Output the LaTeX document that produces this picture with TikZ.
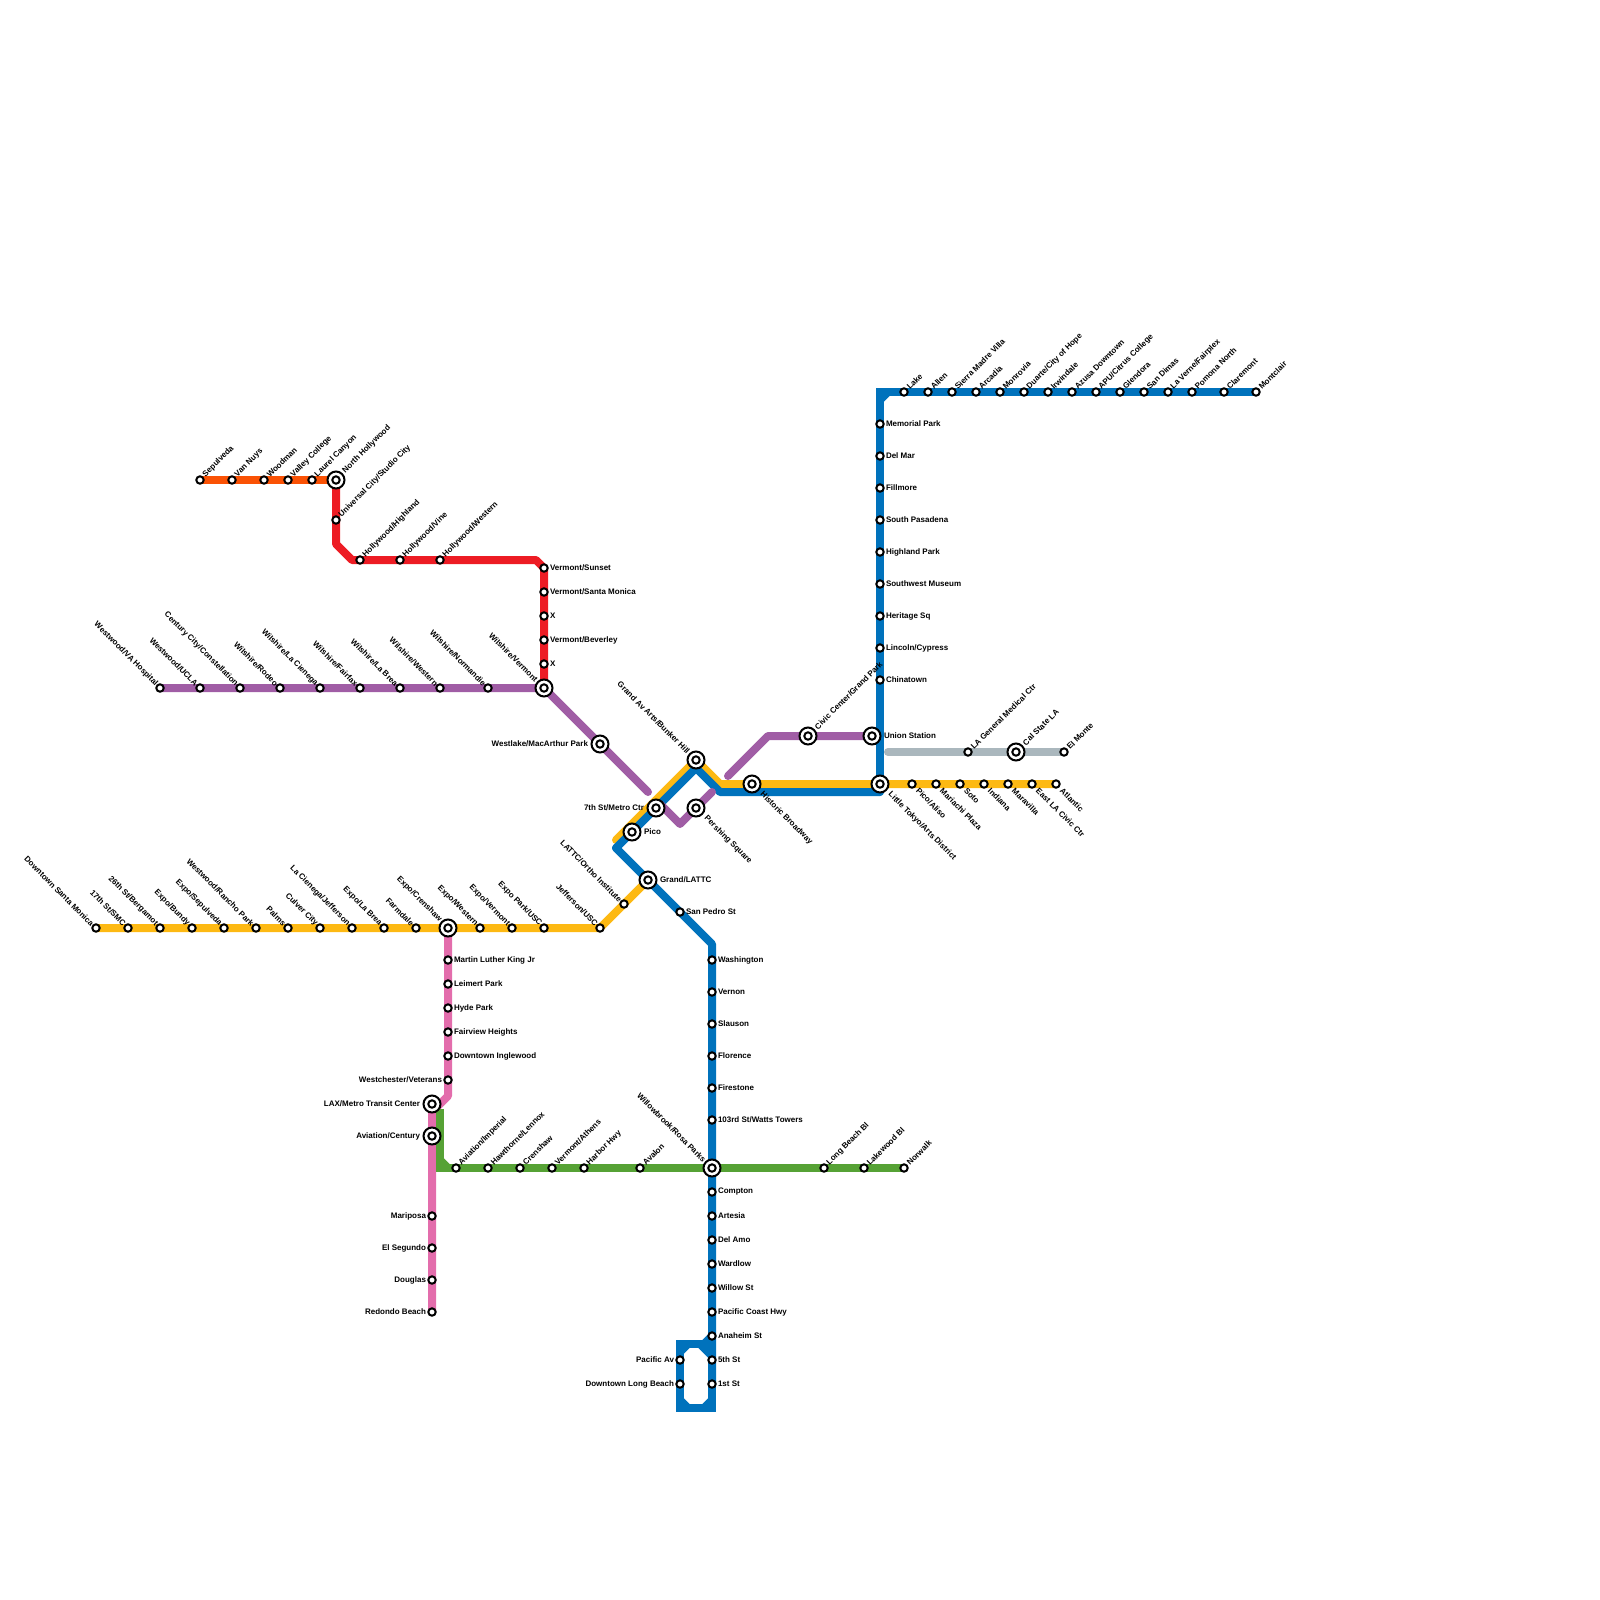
\documentclass[tikz,border=0pt]{standalone}
\usepackage{fontspec}
\setmainfont{Liberation Sans}
\usetikzlibrary{backgrounds}

\definecolor{lineorange}{HTML}{FA5205}
\definecolor{linered}{HTML}{ED1C24}
\definecolor{linepurple}{HTML}{A05DA5}
\definecolor{lineyellow}{HTML}{FDB913}
\definecolor{lineblue}{HTML}{0072BC}
\definecolor{linepink}{HTML}{E36DAC}
\definecolor{linegreen}{HTML}{56A235}
\definecolor{linegray}{HTML}{AAB7BD}

\tikzset{
  rail/.style={line width=8pt, line cap=round, line join=round},
  stn/.style={circle, draw=black, fill=white, line width=2pt, inner sep=0pt, outer sep=0pt, minimum size=7.4pt},
  hub/.style={stn, minimum size=17pt, path picture={\draw[line width=2pt, fill=white] (path picture bounding box.center) circle (3.7pt);}},
  lbl/.style={font=\bfseries\fontsize{8}{8}\selectfont, inner sep=0pt, outer sep=0pt, text=black},
  lblur/.style={lbl, anchor=west, xshift=#1, yshift=#1, rotate=45},
  lblur/.default=4.2pt,
  lblul/.style={lbl, anchor=east, xshift=-#1, yshift=#1, rotate=-45},
  lblul/.default=3.5pt,
  lbldr/.style={lbl, anchor=west, xshift=#1, yshift=-#1, rotate=-45},
  lbldr/.default=5.5pt,
  lblr/.style={lbl, anchor=west, xshift=#1},
  lblr/.default=6pt,
  lbll/.style={lbl, anchor=east, xshift=-#1},
  lbll/.default=6pt,
}

\begin{document}
\begin{tikzpicture}[x=1pt, y=-1pt]
  \useasboundingbox (0,0) rectangle (1600,1600);

  % Orange line
  \foreach \nm/\x/\txt in {sepulveda/200/Sepulveda, vannuys/232/Van Nuys, woodman/264/Woodman, valleycol/288/Valley College, laurel/312/Laurel Canyon}
  {
    \node[stn] (\nm) at (\x,480) {};
    \node[lblur] (\nm t) at (\nm) {\txt};
  }
  \node[hub] (nohollywood) at (336,480) {};
  \node[lblur=8pt] (nohollywood t) at (nohollywood) {North Hollywood};

  % Red line
  \foreach \nm/\x/\y/\txt in {univcity/336/520/{Universal City/Studio City}, hwhighland/360/560/{Hollywood/Highland}, hwvine/400/560/{Hollywood/Vine}, hwwestern/440/560/{Hollywood/Western}}
  {
    \node[stn] (\nm) at (\x,\y) {};
    \node[lblur] (\nm t) at (\nm) {\txt};
  }
  \foreach \nm/\y/\txt in {vsunset/568/{Vermont/Sunset}, vsantamonica/592/{Vermont/Santa Monica}, vxone/616/X, vbeverley/640/{Vermont/Beverley}, vxtwo/664/X}
  {
    \node[stn] (\nm) at (544,\y) {};
    \node[lblr] (\nm t) at (\nm) {\txt};
  }

  % Purple line
  \foreach \nm/\x/\txt in {wwva/160/{Westwood/VA Hospital}, wwucla/200/{Westwood/UCLA}, century/240/{Century City/Constellation}, rodeo/280/{Wilshire/Rodeo}, wcienega/320/{Wilshire/La Cienega}, wfairfax/360/{Wilshire/Fairfax}, wlabrea/400/{Wilshire/La Brea}, wwestern/440/{Wilshire/Western}, wnormandie/488/{Wilshire/Normandie}}
  {
    \node[stn] (\nm) at (\x,688) {};
    \node[lblul] (\nm t) at (\nm) {\txt};
  }
  \node[hub] (wvermont) at (544,688) {};
  \node[lblul=7.5pt] (wvermont t) at (wvermont) {Wilshire/Vermont};
  \node[hub] (westlake) at (600,744) {};
  \node[lbll=12pt] (westlake t) at (westlake) {Westlake/MacArthur Park};
  \node[hub] (pershing) at (696,808) {};
  \node[lbldr=9.5pt] (pershing t) at (pershing) {Pershing Square};
  \node[hub] (civic) at (808,736) {};
  \node[lblur=8pt] (civic t) at (civic) {Civic Center/Grand Park};
  \node[hub] (union) at (872,736) {};
  \node[lblr=12pt] (union t) at (union) {Union Station};

  % Yellow line
  \foreach \nm/\x/\txt in {dtsm/96/Downtown Santa Monica, smc/128/{17th St/SMC}, bergamot/160/{26th St/Bergamot}, bundy/192/{Expo/Bundy}, esepulveda/224/{Expo/Sepulveda}, rancho/256/{Westwood/Rancho Park}, palms/288/Palms, culver/320/Culver City, lcjefferson/352/{La Cienega/Jefferson}, elabrea/384/{Expo/La Brea}, farmdale/416/Farmdale, ewestern/480/{Expo/Western}, evermont/512/{Expo/Vermont}, expopark/544/{Expo Park/USC}, jefferson/600/{Jefferson/USC}}
  {
    \node[stn] (\nm) at (\x,928) {};
    \node[lblul] (\nm t) at (\nm) {\txt};
  }
  \node[hub] (ecrenshaw) at (448,928) {};
  \node[lblul=7.5pt] (ecrenshaw t) at (ecrenshaw) {Expo/Crenshaw};
  \node[stn] (lattc) at (624,904) {};
  \node[lblul] (lattc t) at (lattc) {LATTC/Ortho Institute};
  \node[hub] (grandlattc) at (648,880) {};
  \node[lblr=12pt] (grandlattc t) at (grandlattc) {Grand/LATTC};
  \node[hub] (pico) at (632,832) {};
  \node[lblr=12pt] (pico t) at (pico) {Pico};
  \node[hub] (metroctr) at (656,808) {};
  \node[lbll=12pt] (metroctr t) at (metroctr) {7th St/Metro Ctr};
  \node[hub] (bunkerhill) at (696,760) {};
  \node[lblul=7.5pt] (bunkerhill t) at (bunkerhill) {Grand Av Arts/Bunker Hill};
  \node[hub] (broadway) at (752,784) {};
  \node[lbldr=9.5pt] (broadway t) at (broadway) {Historic Broadway};
  \node[hub] (littletokyo) at (880,784) {};
  \node[lbldr=9.5pt] (littletokyo t) at (littletokyo) {Little Tokyo/Arts District};
  \foreach \nm/\x/\txt in {picoaliso/912/{Pico/Aliso}, mariachi/936/Mariachi Plaza, soto/960/Soto, indiana/984/Indiana, maravilla/1008/Maravilla, eastla/1032/East LA Civic Ctr, atlantic/1056/Atlantic}
  {
    \node[stn] (\nm) at (\x,784) {};
    \node[lbldr] (\nm t) at (\nm) {\txt};
  }

  % Gray line
  \node[stn] (lageneral) at (968,752) {};
  \node[lblur] (lageneral t) at (lageneral) {LA General Medical Ctr};
  \node[hub] (calstate) at (1016,752) {};
  \node[lblur=8pt] (calstate t) at (calstate) {Cal State LA};
  \node[stn] (elmonte) at (1064,752) {};
  \node[lblur] (elmonte t) at (elmonte) {El Monte};

  % Blue line, east branch
  \foreach \nm/\x/\txt in {lake/904/Lake, allen/928/Allen, sierra/952/Sierra Madre Villa, arcadia/976/Arcadia, monrovia/1000/Monrovia, duarte/1024/{Duarte/City of Hope}, irwindale/1048/Irwindale, azusa/1072/Azusa Downtown, apu/1096/{APU/Citrus College}, glendora/1120/Glendora, sandimas/1144/San Dimas, laverne/1168/{La Verne/Fairplex}, pomona/1192/Pomona North, claremont/1224/Claremont, montclair/1256/Montclair}
  {
    \node[stn] (\nm) at (\x,392) {};
    \node[lblur] (\nm t) at (\nm) {\txt};
  }
  \foreach \nm/\y/\txt in {memorial/424/Memorial Park, delmar/456/Del Mar, fillmore/488/Fillmore, southpas/520/South Pasadena, highland/552/Highland Park, swmuseum/584/Southwest Museum, heritage/616/Heritage Sq, lincoln/648/{Lincoln/Cypress}, chinatown/680/Chinatown}
  {
    \node[stn] (\nm) at (880,\y) {};
    \node[lblr] (\nm t) at (\nm) {\txt};
  }

  % Blue line, south branch
  \node[stn] (sanpedro) at (680,912) {};
  \node[lblr] (sanpedro t) at (sanpedro) {San Pedro St};
  \foreach \nm/\y/\txt in {washington/960/Washington, vernon/992/Vernon, slauson/1024/Slauson, florence/1056/Florence, firestone/1088/Firestone, wattstowers/1120/{103rd St/Watts Towers}, compton/1192/Compton, artesia/1216/Artesia, delamo/1240/Del Amo, wardlow/1264/Wardlow, willowst/1288/Willow St, pch/1312/Pacific Coast Hwy, anaheim/1336/Anaheim St, fifthst/1360/5th St, firstst/1384/1st St}
  {
    \node[stn] (\nm) at (712,\y) {};
    \node[lblr] (\nm t) at (\nm) {\txt};
  }
  \foreach \nm/\y/\txt in {pacificav/1360/Pacific Av, dtlb/1384/Downtown Long Beach}
  {
    \node[stn] (\nm) at (680,\y) {};
    \node[lbll] (\nm t) at (\nm) {\txt};
  }

  % Green line
  \foreach \nm/\x/\txt in {avimperial/456/{Aviation/Imperial}, hawthorne/488/{Hawthorne/Lennox}, gcrenshaw/520/Crenshaw, vathens/552/{Vermont/Athens}, harbor/584/Harbor Hwy, avalon/640/Avalon, longbeachbl/824/Long Beach Bl, lakewood/864/Lakewood Bl, norwalk/904/Norwalk}
  {
    \node[stn] (\nm) at (\x,1168) {};
    \node[lblur] (\nm t) at (\nm) {\txt};
  }
  \node[hub] (rosaparks) at (712,1168) {};
  \node[lblul=7.5pt] (rosaparks t) at (rosaparks) {Willowbrook/Rosa Parks};

  % Pink line
  \foreach \nm/\y/\txt in {mlk/960/Martin Luther King Jr, leimert/984/Leimert Park, hydepark/1008/Hyde Park, fairview/1032/Fairview Heights, inglewood/1056/Downtown Inglewood}
  {
    \node[stn] (\nm) at (448,\y) {};
    \node[lblr] (\nm t) at (\nm) {\txt};
  }
  \node[stn] (westchester) at (448,1080) {};
  \node[lbll] (westchester t) at (westchester) {Westchester/Veterans};
  \node[hub] (lax) at (432,1104) {};
  \node[lbll=12pt] (lax t) at (lax) {LAX/Metro Transit Center};
  \node[hub] (avcentury) at (432,1136) {};
  \node[lbll=12pt] (avcentury t) at (avcentury) {Aviation/Century};
  \foreach \nm/\y/\txt in {mariposa/1216/Mariposa, elsegundo/1248/El Segundo, douglas/1280/Douglas, redondo/1312/Redondo Beach}
  {
    \node[stn] (\nm) at (432,\y) {};
    \node[lbll] (\nm t) at (\nm) {\txt};
  }

  % Bends of the lines
  \coordinate (redA) at (336,544);
  \coordinate (redB) at (352,560);
  \coordinate (redC) at (536,560);
  \coordinate (purpleA) at (648,792);
  \coordinate (purpleF) at (660,804);
  \coordinate (purpleB) at (680,824);
  \coordinate (purpleC) at (712,792);
  \coordinate (purpleD) at (728,776);
  \coordinate (purpleE) at (768,736);
  \coordinate (yellowA) at (616,840);
  \coordinate (yellowB) at (720,784);
  \coordinate (blueA) at (696,768);
  \coordinate (blueB) at (720,792);
  \coordinate (blueC) at (880,792);
  \coordinate (blueD) at (880,392);
  \coordinate (blueE) at (616,848);
  \coordinate (blueF) at (712,944);
  \coordinate (grayA) at (888,752);
  \coordinate (pinkA) at (448,1096);
  \coordinate (pinkB) at (432,1112);
  \coordinate (greenA) at (440,1109);
  \coordinate (greenB) at (440,1168);

  \begin{scope}[on background layer]
    \draw[rail, lineorange] (sepulveda.center) -- (nohollywood.center);
    \draw[rail, linered] (nohollywood.center) -- (redA) -- (redB) -- (redC) -- (vsunset.center) -- (wvermont.center);
    \draw[rail, linepurple] (wwva.center) -- (wvermont.center) -- (purpleA);
    \draw[rail, linepink] (ecrenshaw.center) -- (pinkA) -- (pinkB) -- (redondo.center);
    \draw[rail, linegray] (grayA) -- (elmonte.center);
    \draw[rail, lineyellow] (dtsm.center) -- (jefferson.center) -- (grandlattc.center);
    \draw[rail, lineyellow] (yellowA) -- (bunkerhill.center) -- (yellowB) -- (atlantic.center);
    % blue, square outer corners with a cut inner corner
    \draw[rail, lineblue] (blueE) -- (blueA) -- (blueB) -- (blueC);
    \draw[rail, lineblue] (blueE) -- (blueF) -- (firstst.center);
    \draw[rail, lineblue, line join=miter] (blueC) -- (blueD) -- (montclair.center);
    \draw[rail, lineblue, line cap=butt] (880,400) -- (888,392);
    \draw[rail, lineblue, line join=miter] (680,1344) rectangle (712,1408);
    \draw[rail, lineblue, line cap=butt] (712,1336) -- (704,1344);
    \draw[rail, lineblue, line cap=butt] (680,1352) -- (688,1344);
    \draw[rail, lineblue, line cap=butt] (700,1344) -- (712,1356);
    \draw[rail, lineblue, line cap=butt] (680,1400) -- (688,1408);
    \draw[rail, lineblue, line cap=butt] (704,1408) -- (712,1400);
    \draw[rail, linepurple] (purpleF) -- (purpleB) -- (purpleC);
    \draw[rail, linepurple] (purpleD) -- (purpleE) -- (union.center);
    \draw[rail, linegreen, line cap=butt, line join=miter] (greenA) -- (greenB) -- (norwalk.center);
    \draw[rail, linegreen, line cap=butt] (440,1160) -- (448,1168);
  \end{scope}
\end{tikzpicture}
\end{document}
